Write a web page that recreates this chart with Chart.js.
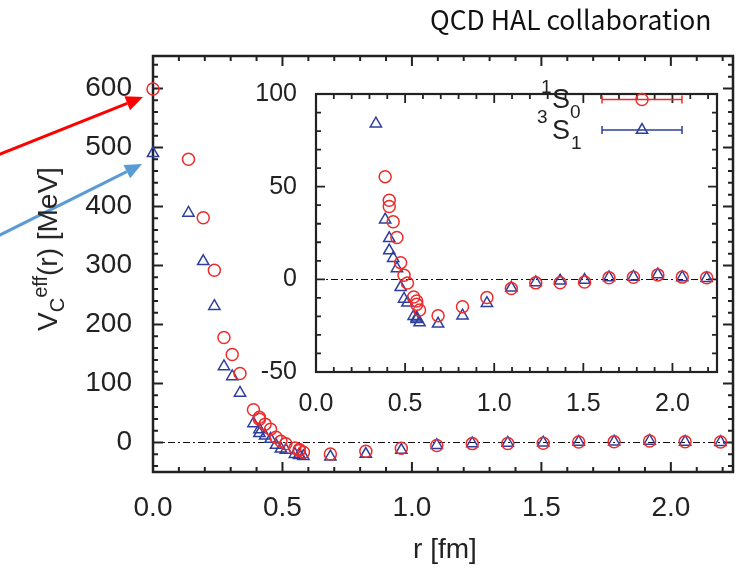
<!DOCTYPE html>
<html><head><meta charset="utf-8">
<script src="https://cdn.jsdelivr.net/npm/chart.js@4.4.1/dist/chart.umd.min.js"></script>
<style>
html,body{margin:0;padding:0;background:#fff;}
body{width:741px;height:570px;position:relative;overflow:hidden;font-family:"Liberation Sans",Arial,sans-serif;color:#222;}
canvas{position:absolute;}
#main{left:0;top:0;}
#inset{left:230px;top:60px;}
.t{position:absolute;white-space:nowrap;line-height:1;}
#ytitle{left:48px;top:249px;font-size:28px;transform:translate(-50%,-50%) rotate(-90deg);}
#ytitle sub,#ytitle sup{font-size:20px;line-height:0;}
#xtitle{left:445px;top:549px;font-size:28px;transform:translate(-50%,-50%);}
#hal{left:430px;top:6px;font-family:"Noto Sans CJK KR","Noto Sans",sans-serif;font-size:26.5px;color:#111;}
.lg{font-size:27px;color:#222;}
.ls{font-size:19px;color:#222;}
</style></head>
<body>
<canvas id="main" width="741" height="570"></canvas>
<canvas id="inset" width="500" height="380"></canvas>
<div class="t" id="hal">QCD HAL collaboration</div>
<div class="t" id="ytitle">V<sub>C</sub><sup>eff</sup>(r) [MeV]</div>
<div class="t" id="xtitle">r [fm]</div>
<span class="t ls" style="left:541px;top:77px;">1</span>
<span class="t lg" style="left:552px;top:86px;">S</span>
<span class="t ls" style="left:570px;top:102px;">0</span>
<span class="t ls" style="left:537px;top:107px;">3</span>
<span class="t lg" style="left:552px;top:117px;">S</span>
<span class="t ls" style="left:571px;top:133px;">1</span>
<script>
// ---- data ----
const r    = [0, 0.137, 0.194, 0.237, 0.274, 0.306, 0.336, 0.388, 0.411, 0.411, 0.433, 0.454, 0.475, 0.494, 0.513, 0.548, 0.565, 0.565, 0.581, 0.685, 0.822, 0.959, 1.096, 1.233, 1.370, 1.507, 1.644, 1.781, 1.918, 2.055, 2.192];
const v1S0 = [599, 480, 381, 292, 178, 149, 117, 55.4, 42.7, 39.3, 31.1, 22.6, 9.0, 2.2, -2.0, -9.5, -11.7, -13.5, -16.5, -19.6, -14.8, -9.8, -5.0, -1.9, -1.8, -1.4, 0.8, 1.1, 2.4, 1.2, 0.9];
const v3S1 = [490, 389, 307, 231, 129, 112, 84, 32.2, 22.1, 15.5, 11.4, 5.9, -4.3, -10.6, -12.7, -19.9, -20.7, -21.5, -23.3, -24.0, -19.6, -12.9, -4.6, -1.7, -0.8, -0.4, 1.0, 1.3, 2.6, 1.0, 0.6];
const seriesNames = ['1S0', '3S1'];
const mainXTicks  = [0, 0.5, 1.0, 1.5, 2.0];
const mainYTicks  = [0, 100, 200, 300, 400, 500, 600];
const insetXTicks = [0, 0.5, 1.0, 1.5, 2.0];
const insetYTicks = [-50, 0, 50, 100];

const RED = '#ee2b2b', BLUE = '#2c3f9e', INK = '#222';
const FONT = '"Liberation Sans", Arial, sans-serif';
const pts = v => r.map((x, i) => ({x: x, y: v[i]}));

function frame(id, o) {
  return {
    id: id,
    beforeDraw(chart) {
      if (o.fill) { const a = chart.chartArea; const c = chart.ctx; c.save(); c.fillStyle = '#fff'; c.fillRect(a.left, a.top, a.right - a.left, a.bottom - a.top); c.restore(); }
    },
    beforeDatasetsDraw(chart) {
      const a = chart.chartArea, c = chart.ctx, xs = chart.scales.x, ys = chart.scales.y;
      c.save();
      c.strokeStyle = '#111'; c.lineWidth = 1; c.setLineDash([7, 3, 2, 3]);
      const y0 = Math.round(ys.getPixelForValue(0)) + 0.5;
      c.beginPath(); c.moveTo(a.left, y0); c.lineTo(a.right, y0); c.stroke();
      c.setLineDash([]);
      c.strokeStyle = INK; c.lineWidth = o.tw;
      const eps = 1e-6;
      for (let k = Math.ceil(xs.min / o.xm - eps); k * o.xm <= xs.max + eps; k++) {
        const v = k * o.xm; const p = xs.getPixelForValue(v);
        const major = Math.abs(v / o.xM - Math.round(v / o.xM)) < 1e-4;
        const L = major ? o.ML : o.mL;
        c.beginPath(); c.moveTo(p, a.bottom); c.lineTo(p, a.bottom - L); c.moveTo(p, a.top); c.lineTo(p, a.top + L); c.stroke();
      }
      for (let k = Math.ceil(ys.min / o.ym - eps); k * o.ym <= ys.max + eps; k++) {
        const v = k * o.ym; const p = ys.getPixelForValue(v);
        const major = Math.abs(v / o.yM - Math.round(v / o.yM)) < 1e-4;
        const L = major ? o.ML : o.mL;
        c.beginPath(); c.moveTo(a.left, p); c.lineTo(a.left + L, p); c.moveTo(a.right, p); c.lineTo(a.right - L, p); c.stroke();
      }
      c.lineWidth = o.bw; c.strokeStyle = INK;
      c.strokeRect(a.left, a.top, a.right - a.left, a.bottom - a.top);
      c.restore();
    }
  };
}

const arrows = {
  id: 'arrows',
  afterDraw(chart) {
    const c = chart.ctx;
    const draw = (x0, y0, x1, y1, col) => {
      const ang = Math.atan2(y1 - y0, x1 - x0), hl = 17, hw = 7.5;
      const bx = x1 - hl * Math.cos(ang), by = y1 - hl * Math.sin(ang);
      c.save(); c.strokeStyle = col; c.fillStyle = col; c.lineWidth = 3;
      c.beginPath(); c.moveTo(x0, y0); c.lineTo(bx, by); c.stroke();
      c.beginPath(); c.moveTo(x1, y1);
      c.lineTo(bx + hw * Math.sin(ang), by - hw * Math.cos(ang));
      c.lineTo(bx - hw * Math.sin(ang), by + hw * Math.cos(ang));
      c.closePath(); c.fill(); c.restore();
    };
    draw(-2, 155, 143, 97, '#ff0000');
    draw(-2, 236, 142, 164, '#5b9bd5');
  }
};

const legendSamples = {
  id: 'legendSamples',
  afterDatasetsDraw(chart) {
    const c = chart.ctx;
    const row = (y, col, style) => {
      c.save(); c.strokeStyle = col; c.fillStyle = 'rgba(0,0,0,0)'; c.lineWidth = 1.5;
      c.beginPath(); c.moveTo(372, y); c.lineTo(452, y);
      c.moveTo(372, y - 4); c.lineTo(372, y + 4); c.moveTo(452, y - 4); c.lineTo(452, y + 4); c.stroke();
      Chart.helpers.drawPoint(c, {pointStyle: style, radius: style === 'circle' ? 6 : 6.5, borderWidth: 1.5}, 412, y);
      c.restore();
    };
    row(39.5, RED, 'circle');
    row(70, BLUE, 'triangle');
  }
};

function datasets(clip) {
  return [
    {label: seriesNames[0], data: pts(v1S0), pointStyle: 'circle', pointRadius: 6, borderColor: RED, backgroundColor: 'rgba(0,0,0,0)', pointBorderWidth: 1.5, showLine: false, clip: clip},
    {label: seriesNames[1], data: pts(v3S1), pointStyle: 'triangle', pointRadius: 6.5, borderColor: BLUE, backgroundColor: 'rgba(0,0,0,0)', pointBorderWidth: 1.5, showLine: false, clip: clip}
  ];
}

function axes(o) {
  return {
    x: {type: 'linear', min: o.xmin, max: o.xmax,
        grid: {display: false, drawTicks: false}, border: {display: false},
        afterBuildTicks: s => { s.ticks = o.xt.map(v => ({value: v})); },
        ticks: {color: INK, font: {family: FONT, size: o.fs}, padding: o.xpad, maxRotation: 0, autoSkip: false, callback: v => Number(v).toFixed(1)},
        afterFit: s => { s.height = o.xh; }},
    y: {type: 'linear', min: o.ymin, max: o.ymax,
        grid: {display: false, drawTicks: false}, border: {display: false},
        afterBuildTicks: s => { s.ticks = o.yt.map(v => ({value: v})); },
        ticks: {color: INK, font: {family: FONT, size: o.fs}, padding: o.ypad, autoSkip: false, callback: v => String(v)},
        afterFit: s => { s.width = o.yw; }}
  };
}

const common = {responsive: false, animation: false, devicePixelRatio: 1, events: [],
  plugins: {legend: {display: false}, tooltip: {enabled: false}}};

new Chart(document.getElementById('main'), {
  type: 'scatter',
  data: {datasets: datasets(false)},
  options: Object.assign({}, common, {
    layout: {padding: {left: 0, right: 3, top: 56, bottom: 0}},
    scales: axes({xmin: 0, xmax: 2.24, ymin: -50, ymax: 655, xt: mainXTicks, yt: mainYTicks, fs: 28, xpad: 19, ypad: 21, xh: 98, yw: 153})
  }),
  plugins: [frame('frameMain', {xm: 0.1, xM: 0.5, ym: 20, yM: 100, ML: 10, mL: 5, tw: 2, bw: 2.5, fill: false}), arrows]
});

new Chart(document.getElementById('inset'), {
  type: 'scatter',
  data: {datasets: datasets(true)},
  options: Object.assign({}, common, {
    layout: {padding: {left: 0, right: 13, top: 18, bottom: 0}},
    scales: axes({xmin: 0, xmax: 2.25, ymin: -50, ymax: 100, xt: insetXTicks, yt: insetYTicks, fs: 25, xpad: 17, ypad: 19, xh: 68, yw: 86})
  }),
  plugins: [frame('frameInset', {xm: 0.1, xM: 0.5, ym: 10, yM: 50, ML: 9, mL: 5, tw: 1.8, bw: 2.2, fill: true}), legendSamples]
});
</script>
</body></html>
